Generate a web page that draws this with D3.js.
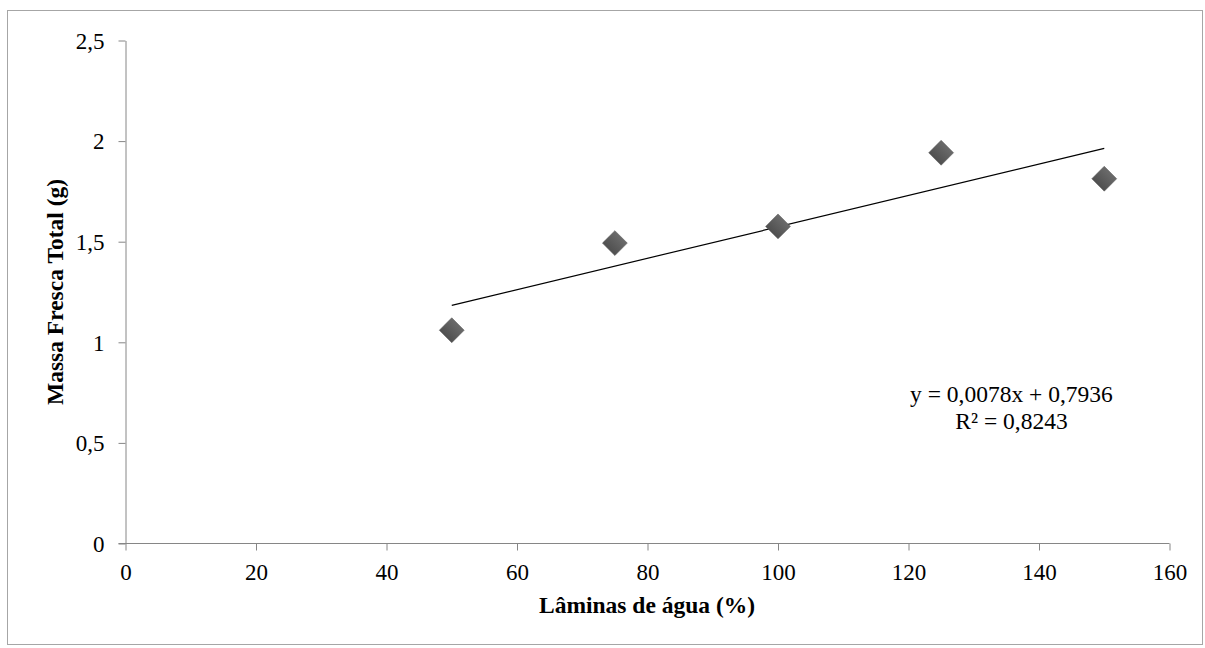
<!DOCTYPE html>
<html>
<head>
<meta charset="utf-8">
<script src="https://cdn.jsdelivr.net/npm/d3@7"></script>
<style>
  body { margin: 0; background: #fff; }
  text { font-family: "Liberation Serif", "Times New Roman", serif; }
</style>
</head>
<body>
<div class="canvas"></div>
<script>
// data
let laminas = [50, 75, 100, 125, 150];
let massa = [1.06, 1.493, 1.576, 1.942, 1.813];
let xTicks = [0, 20, 40, 60, 80, 100, 120, 140, 160];
let yTicks = [0, 0.5, 1, 1.5, 2, 2.5];
let trend = { slope: 0.0078, intercept: 0.7936, r2: 0.8243 };

var svg = d3.select(".canvas").append("svg").attr("width", 1205).attr("height", 648);

// outer frame
svg.append('rect')
    .attr('x', 7.5).attr('y', 10.5)
    .attr('width', 1195).attr('height', 634)
    .attr('fill', 'none')
    .attr('stroke', '#a6a6a6')
    .attr('stroke-width', 1);

let x = d3.scaleLinear().domain([0, 160]).range([125.5, 1169.5]);
let y = d3.scaleLinear().domain([0, 2.5]).range([543.5, 40.5]);

let fmt = d => String(d).replace('.', ',');

// x axis
let xAxis = svg.append('g')
    .attr('transform', 'translate(0,' + y(0) + ')')
    .call(d3.axisBottom(x).tickValues(xTicks).tickFormat(fmt).tickSize(7).tickSizeOuter(0));

// y axis
let yAxis = svg.append('g')
    .attr('transform', 'translate(' + x(0) + ',0)')
    .call(d3.axisLeft(y).tickValues(yTicks).tickFormat(fmt).tickSize(7).tickSizeOuter(0).tickPadding(14));

[xAxis, yAxis].forEach(a => {
    a.select('.domain').attr('stroke', '#868686');
    a.selectAll('.tick line').attr('stroke', '#868686');
    a.selectAll('.tick text')
        .attr('font-size', 23)
        .attr('font-family', '"Liberation Serif", serif')
        .attr('fill', '#000');
});
xAxis.selectAll('.tick text').attr('dy', null).attr('y', 36.5);
yAxis.selectAll('.tick text').attr('dy', '0.34em');
// extend x axis domain left to cover y tick
xAxis.select('.domain').attr('d', 'M' + (x(0) - 7) + ',0H' + x(160));

// trend line
let line = d3.line().x(d => x(d)).y(d => y(trend.slope * d + trend.intercept));
svg.append('path')
    .datum([d3.min(laminas), d3.max(laminas)])
    .attr('d', line)
    .attr('fill', 'none')
    .attr('stroke', '#000')
    .attr('stroke-width', 1.2);

// markers
let grad = svg.append('defs').append('linearGradient')
    .attr('id', 'mk').attr('x1', 0).attr('y1', 0).attr('x2', 0).attr('y2', 1);
grad.append('stop').attr('offset', '0%').attr('stop-color', '#6b6b6b');
grad.append('stop').attr('offset', '100%').attr('stop-color', '#4f4f4f');

let sym = d3.symbol().type(d3.symbolSquare).size(310);
for (let i = 0; i < laminas.length; i++) {
    svg.append('path')
        .attr('d', sym)
        .attr('transform', 'translate(' + x(laminas[i]) + ',' + y(massa[i]) + ') rotate(45)')
        .attr('fill', 'url(#mk)')
        .attr('stroke', '#5a5a5a')
        .attr('stroke-width', 0.5);
}

// equation
svg.append('text')
    .text('y = ' + fmt(trend.slope) + 'x + ' + fmt(trend.intercept))
    .attr('x', 1011.5).attr('y', 401.5)
    .attr('text-anchor', 'middle')
    .attr('font-size', 23.5);
svg.append('text')
    .text('R² = ' + fmt(trend.r2))
    .attr('x', 1011.5).attr('y', 428.5)
    .attr('text-anchor', 'middle')
    .attr('font-size', 23.5);

// axis titles
svg.append('text')
    .text('Lâminas de água (%)')
    .attr('x', 647).attr('y', 613)
    .attr('text-anchor', 'middle')
    .attr('font-size', 23.5)
    .attr('font-weight', 'bold');

svg.append('text')
    .text('Massa Fresca Total (g)')
    .attr('transform', 'translate(63,292) rotate(-90)')
    .attr('text-anchor', 'middle')
    .attr('font-size', 23.5)
    .attr('font-weight', 'bold');
</script>
</body>
</html>
